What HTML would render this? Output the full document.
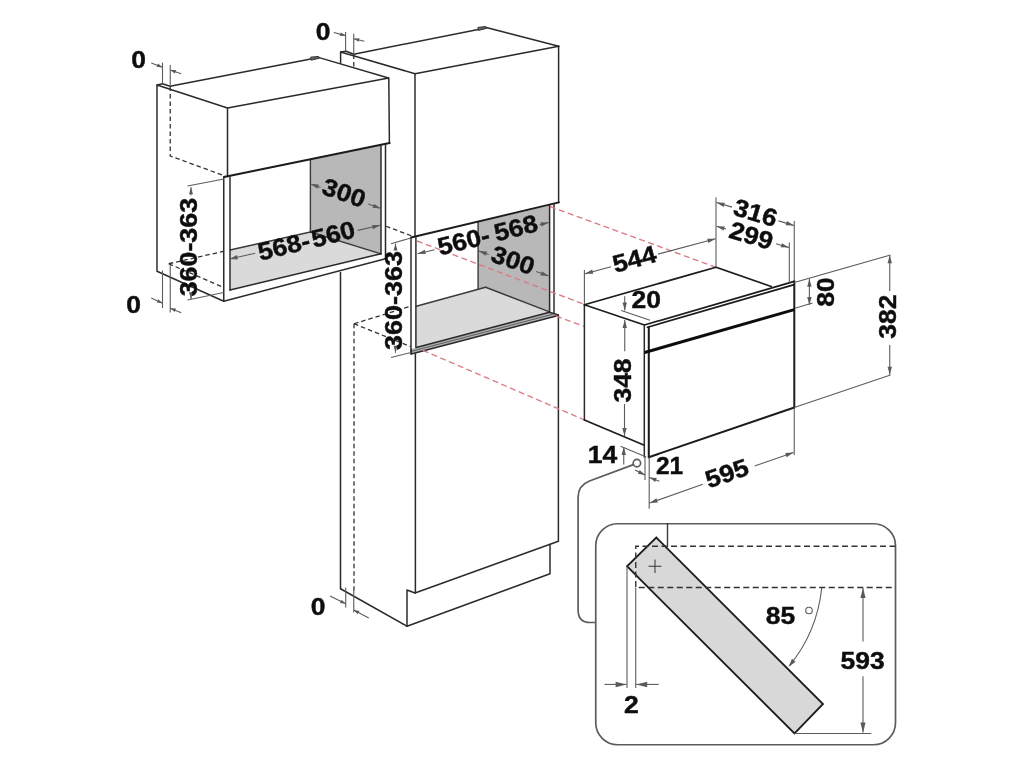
<!DOCTYPE html>
<html><head><meta charset="utf-8"><title>Built-in oven installation dimensions</title>
<style>
html,body{margin:0;padding:0;background:#fff;}
body{width:1024px;height:768px;overflow:hidden;font-family:"Liberation Sans",sans-serif;}
svg{display:block;}
text{font-family:"Liberation Sans",sans-serif;font-weight:bold;fill:#111;stroke:#111;stroke-width:0.45;}
.k{stroke:#2b2b2b;stroke-width:1.5;fill:none;stroke-linejoin:round;stroke-linecap:round;}
.k2{stroke:#3a3a3a;stroke-width:1.4;fill:none;stroke-linecap:round;}
.k4{stroke:#555;stroke-width:0.9;fill:none;}
.k3{stroke:#333;stroke-width:1;fill:none;}
.kb{stroke:#1c1c1c;stroke-width:2;fill:none;stroke-linecap:round;}
.ko{stroke:#1c1c1c;stroke-width:1.7;fill:none;stroke-linejoin:round;stroke-linecap:round;}
.kh{stroke:#111;stroke-width:3;fill:none;}
.kd{stroke:#1c1c1c;stroke-width:1.8;stroke-linejoin:miter;}
.c{stroke:#5c5c5c;stroke-width:1.7;fill:none;}
.d{stroke:#333;stroke-width:1.3;fill:none;stroke-dasharray:4.5 3;}
.d2{stroke:#333;stroke-width:1.4;fill:none;stroke-dasharray:6 3.5;}
.g{stroke:#5c5c5c;stroke-width:1.1;fill:none;}
.ah{fill:#5a5a5a;stroke:none;}
.r{stroke:#dc7a83;stroke-width:1.35;fill:none;stroke-dasharray:6 3.5;}
.f{stroke:none;}
.n{fill:#666;stroke:#333;stroke-width:1;stroke-linejoin:round;}
</style></head>
<body>
<svg width="1024" height="768" viewBox="0 0 1024 768">
<rect x="0" y="0" width="1024" height="768" fill="#ffffff"/>
<defs><filter id="soft" x="0" y="0" width="1024" height="768" filterUnits="userSpaceOnUse"><feGaussianBlur stdDeviation="0.45"/></filter></defs>
<g filter="url(#soft)">
<polygon points="310.4,159.5 381,145 381,253.8 310.4,232" class="f" fill="#b8b8b8"/>
<polygon points="230,250 310.4,232 381,253.8 230,290" class="f" fill="#dadada"/>
<line x1="310.4" y1="160" x2="310.4" y2="232" class="k2" />
<line x1="230" y1="250" x2="310.4" y2="232" class="k2" />
<line x1="310.4" y1="232" x2="381" y2="253.8" class="k2" />
<polyline points="227.5,108 157,85 157,271.25 223.75,301.25 385.5,258.7" class="k" />
<polyline points="157,85 162.5,83.75 170,86.25 310.8,58.9" class="k" />
<polyline points="319.2,57.6 388.5,78" class="k" />
<polygon points="310.6,57.2 318.6,56.4 319.4,58.2 311.2,60.2" class="n" />
<polyline points="227.5,176.2 227.5,108 388.8,78 389.4,143.2" class="k" />
<line x1="224" y1="176.9" x2="389.6" y2="143.1" class="kb" />
<line x1="223.75" y1="176.8" x2="223.75" y2="301.25" class="k" />
<line x1="230" y1="175.6" x2="230" y2="290" class="k" />
<line x1="381" y1="145.5" x2="381" y2="253.8" class="k" />
<line x1="385.5" y1="144.5" x2="385.5" y2="258.7" class="k" />
<line x1="230" y1="290" x2="381" y2="253.8" class="k" />
<polyline points="170.25,86.5 170.25,156 225,176" class="d" />
<line x1="168.75" y1="263.75" x2="223.75" y2="251.25" class="d" />
<line x1="168.75" y1="263.75" x2="223.75" y2="287.5" class="d" />
<line x1="162.5" y1="62.5" x2="162.5" y2="83.75" class="g" />
<line x1="170.25" y1="65" x2="170.25" y2="86.25" class="g" />
<line x1="151.25" y1="63" x2="162.5" y2="67.25" class="g" />
<polygon points="162.5,67.25 156.72,66.99 157.99,63.62" class="ah" />
<line x1="181.25" y1="73.75" x2="170.25" y2="70" class="g" />
<polygon points="170.25,70 176.04,70.07 174.87,73.48" class="ah" />
<line x1="162.5" y1="270.5" x2="162.5" y2="308" class="g" />
<line x1="170.25" y1="265" x2="170.25" y2="312.5" class="g" />
<line x1="151.25" y1="298" x2="162.5" y2="303.2" class="g" />
<polygon points="162.5,303.2 156.75,302.53 158.26,299.26" class="ah" />
<line x1="181.25" y1="312.7" x2="170.25" y2="308.2" class="g" />
<polygon points="170.25,308.2 176.02,308.62 174.66,311.95" class="ah" />
<line x1="187.5" y1="186" x2="224" y2="179" class="g" />
<line x1="187.5" y1="300" x2="223.75" y2="292.5" class="g" />
<line x1="191" y1="187.3" x2="191.0" y2="195.14000000000001" class="g" />
<line x1="191.0" y1="296.5" x2="191" y2="299.3" class="g" />
<polygon points="191,187.3 193.0,194.3 189.0,194.3" class="ah" />
<polygon points="191,299.3 189.0,292.3 193.0,292.3" class="ah" />
<line x1="310.6" y1="184" x2="320.428" y2="187.416" class="g" />
<line x1="368.164" y1="204.008" x2="380.8" y2="208.4" class="g" />
<polygon points="310.6,184 318.88,184.55 317.43,188.7" class="ah" />
<polygon points="380.8,208.4 372.52,207.85 373.97,203.7" class="ah" />
<line x1="229.6" y1="259" x2="255.219" y2="253.27100000000002" class="g" />
<line x1="357.695" y1="230.35500000000002" x2="380.3" y2="225.3" class="g" />
<polygon points="229.6,259 236.93,255.11 237.89,259.4" class="ah" />
<polygon points="380.3,225.3 372.97,229.19 372.01,224.9" class="ah" />
<polygon points="478.1,222 549.5,205.5 549.5,311.9 485.6,287.25 478.1,289" class="f" fill="#b8b8b8"/>
<polygon points="416.25,306.25 485.6,287.25 548.75,311.9 416.25,347.5" class="f" fill="#dadada"/>
<line x1="478.1" y1="222.5" x2="478.1" y2="289" class="k2" />
<line x1="416.25" y1="306.25" x2="485.6" y2="287.25" class="k2" />
<line x1="485.6" y1="287.25" x2="549.5" y2="311.9" class="k2" />
<polyline points="340.6,63.2 340.6,52 415,73.75 558.75,46.25" class="k" />
<polyline points="340.6,52 346.25,51.25 353.75,54.2 478.2,29.4" class="k" />
<polyline points="486.2,27.6 558.75,46.25" class="k" />
<polygon points="477.9,27.4 485.6,26.5 486.5,28.4 478.4,30.4" class="n" />
<line x1="415" y1="73.75" x2="415" y2="236.5" class="k" />
<line x1="558.6" y1="46.25" x2="558.6" y2="202.5" class="k" />
<line x1="411" y1="237.5" x2="558.9" y2="202.4" class="kb" />
<line x1="411" y1="237.5" x2="411" y2="354" class="k" />
<line x1="415.9" y1="236.3" x2="415.9" y2="347.6" class="k" />
<line x1="549.6" y1="205" x2="549.6" y2="312" class="k" />
<line x1="554" y1="203.8" x2="554" y2="314" class="k" />
<polygon points="416.25,347.5 549.5,312.2 558.2,315.4 411.25,353.8 411.25,349" class="f" fill="#b0b0b0"/>
<polyline points="416.25,347.5 549.5,312.2 557.8,314.6" class="k" />
<line x1="411.25" y1="351.4" x2="554" y2="313.9" class="k4" />
<polyline points="411.25,349.5 411.25,354 558.2,315.6" class="k" />
<line x1="415.4" y1="354" x2="415.4" y2="593" class="k" />
<line x1="558.4" y1="315" x2="558.4" y2="541.3" class="k" />
<line x1="340.5" y1="272.5" x2="340.5" y2="588.75" class="k" />
<polyline points="340.5,588.75 407,626.25 550,573.75 550,544.5" class="k" />
<polyline points="407,626.25 407,590 415,593 558.4,541.3" class="k" />
<line x1="353.75" y1="54.4" x2="353.75" y2="67.5" class="d" />
<line x1="354" y1="323.75" x2="354" y2="590.5" class="d" />
<line x1="354" y1="323.75" x2="410.6" y2="306.25" class="d" />
<line x1="354" y1="323.75" x2="410.6" y2="346.6" class="d" />
<line x1="386" y1="226.25" x2="412.5" y2="236.2" class="d" />
<line x1="550" y1="206.5" x2="716" y2="267.3" class="r" />
<line x1="417" y1="241" x2="584" y2="304.3" class="r" />
<line x1="556" y1="316" x2="584" y2="326.3" class="r" />
<line x1="422.8" y1="350.3" x2="584.6" y2="420" class="r" />
<line x1="345.6" y1="32" x2="345.6" y2="51.25" class="g" />
<line x1="353.75" y1="33.75" x2="353.75" y2="54.4" class="g" />
<line x1="333.75" y1="32.5" x2="345.6" y2="35.6" class="g" />
<polygon points="345.6,35.6 339.82,35.95 340.73,32.47" class="ah" />
<line x1="364.4" y1="41.25" x2="353.75" y2="38.75" class="g" />
<polygon points="353.75,38.75 359.52,38.25 358.69,41.76" class="ah" />
<line x1="345.75" y1="587.5" x2="345.75" y2="607.5" class="g" />
<line x1="353.75" y1="590" x2="353.75" y2="612.5" class="g" />
<line x1="330" y1="596" x2="345.75" y2="603.75" class="g" />
<polygon points="345.75,603.75 340.02,602.94 341.61,599.71" class="ah" />
<line x1="368.75" y1="618" x2="353.75" y2="610" class="g" />
<polygon points="353.75,610 359.45,611.0 357.76,614.18" class="ah" />
<line x1="391" y1="243.75" x2="411" y2="238" class="g" />
<line x1="391" y1="357.5" x2="411" y2="352.5" class="g" />
<line x1="395.5" y1="243.6" x2="395.5" y2="250.152" class="g" />
<line x1="395.5" y1="350.07" x2="395.5" y2="352.8" class="g" />
<polygon points="395.5,243.6 397.5,250.6 393.5,250.6" class="ah" />
<polygon points="395.5,352.8 393.5,345.8 397.5,345.8" class="ah" />
<line x1="417.5" y1="253.75" x2="434.5625" y2="249.6875" class="g" />
<line x1="539.5625" y1="224.6875" x2="548.75" y2="222.5" class="g" />
<polygon points="417.5,253.75 424.77,249.76 425.79,254.04" class="ah" />
<polygon points="548.75,222.5 541.48,226.49 540.46,222.21" class="ah" />
<line x1="478.75" y1="251" x2="488.55" y2="254.5" class="g" />
<line x1="536.15" y1="271.5" x2="548.75" y2="276" class="g" />
<polygon points="478.75,251 487.02,251.62 485.54,255.76" class="ah" />
<polygon points="548.75,276 540.48,275.38 541.96,271.24" class="ah" />
<polyline points="584.4,420 584.4,304.75" class="k" />
<polyline points="584.4,304.75 716,267.2 771.25,286.5" class="ko" />
<polyline points="584.4,304.75 644.4,325 794.25,281.4" class="ko" />
<line x1="647.5" y1="327.2" x2="794.25" y2="284.6" class="ko" />
<line x1="584.4" y1="420" x2="643.75" y2="445" class="ko" />
<line x1="644.3" y1="325" x2="644.3" y2="457" class="k" />
<line x1="648.8" y1="327" x2="648.8" y2="457.2" class="kb" />
<line x1="648.8" y1="457.2" x2="794.3" y2="407.5" class="kb" />
<line x1="794.3" y1="281" x2="794.3" y2="407.7" class="kb" />
<line x1="644.6" y1="352.5" x2="794.3" y2="309.6" class="kh" />
<line x1="584.4" y1="270" x2="584.4" y2="304" class="g" />
<line x1="716" y1="197.5" x2="716" y2="267" class="g" />
<line x1="585" y1="273.75" x2="611.1" y2="266.75" class="g" />
<line x1="658.08" y1="254.15" x2="715.5" y2="238.75" class="g" />
<polygon points="585,273.75 592.16,269.55 593.3,273.8" class="ah" />
<polygon points="715.5,238.75 708.34,242.95 707.2,238.7" class="ah" />
<line x1="794.25" y1="221" x2="794.25" y2="281" class="g" />
<line x1="789.3" y1="242.5" x2="789.3" y2="282.5" class="g" />
<line x1="716.5" y1="202.5" x2="732.0" y2="207.1" class="g" />
<line x1="778.5" y1="220.9" x2="794" y2="225.5" class="g" />
<polygon points="716.5,202.5 724.8,202.67 723.54,206.89" class="ah" />
<polygon points="794,225.5 785.7,225.33 786.96,221.11" class="ah" />
<line x1="716.5" y1="226.25" x2="725.925" y2="229.0125" class="g" />
<line x1="775.95" y1="243.675" x2="789" y2="247.5" class="g" />
<polygon points="716.5,226.25 724.8,226.39 723.56,230.61" class="ah" />
<polygon points="789,247.5 780.7,247.36 781.94,243.14" class="ah" />
<line x1="621.25" y1="310.6" x2="650" y2="320.2" class="g" />
<line x1="624.75" y1="296.25" x2="624.75" y2="310.6" class="g" />
<polygon points="624.75,310.6 622.55,302.6 626.95,302.6" class="ah" />
<line x1="624.75" y1="351.25" x2="624.75" y2="320" class="g" />
<polygon points="624.75,320 626.95,328.0 622.55,328.0" class="ah" />
<line x1="624.5" y1="404" x2="624.5" y2="436" class="g" />
<polygon points="624.5,436 622.3,428.0 626.7,428.0" class="ah" />
<line x1="620.6" y1="446.25" x2="646.25" y2="456.9" class="g" />
<line x1="623.75" y1="464.4" x2="623.75" y2="446.9" class="g" />
<polygon points="623.75,446.9 625.95,454.9 621.55,454.9" class="ah" />
<line x1="645" y1="457" x2="645" y2="480" class="g" />
<line x1="649.2" y1="457.5" x2="649.2" y2="508.75" class="g" />
<line x1="635" y1="470" x2="645" y2="475" class="g" />
<polygon points="645,475 637.8,473.75 639.68,469.99" class="ah" />
<line x1="659.4" y1="481.25" x2="649.4" y2="477.5" class="g" />
<polygon points="649.4,477.5 656.69,477.99 655.22,481.92" class="ah" />
<line x1="794.25" y1="407.5" x2="794.25" y2="455" class="g" />
<line x1="649.6" y1="503" x2="702.843" y2="484.278" class="g" />
<line x1="754.647" y1="466.062" x2="793.5" y2="452.4" class="g" />
<polygon points="649.6,503 656.42,498.27 657.88,502.42" class="ah" />
<polygon points="793.5,452.4 786.68,457.13 785.22,452.98" class="ah" />
<line x1="795" y1="308.2" x2="812.5" y2="303" class="g" />
<line x1="809.4" y1="278.75" x2="809.4" y2="305" class="g" />
<polygon points="809.4,278.75 811.6,286.75 807.2,286.75" class="ah" />
<polygon points="809.4,305 807.2,297.0 811.6,297.0" class="ah" />
<line x1="794.25" y1="282.5" x2="890.5" y2="255" class="g" />
<line x1="794.25" y1="407.5" x2="890.5" y2="375" class="g" />
<line x1="889.75" y1="255.2" x2="889.75" y2="291.08" class="g" />
<line x1="889.75" y1="344.9" x2="889.75" y2="374.8" class="g" />
<polygon points="889.75,255.2 891.95,263.2 887.55,263.2" class="ah" />
<polygon points="889.75,374.8 887.55,366.8 891.95,366.8" class="ah" />
<circle cx="636.9" cy="463.1" r="3.7" class="c"/>
<path d="M633.4,464.6 L589.5,481 Q578.1,485.5 578.1,497 L578.1,610 Q578.1,622.5 590,622.5 L595.7,622.5" class="c"/>
<rect x="595.75" y="523.75" width="299.75" height="221" rx="22" ry="22" class="c"/>
<line x1="667.5" y1="523.75" x2="667.5" y2="546.25" class="k2" />
<polygon points="656.25,537.5 823,704 794.5,733.5 627,566.25" class="kd" fill="#d8d8d8"/>
<polyline points="895.5,546.25 635.75,546.25 635.75,587.5 895.5,587.5" class="d2" />
<line x1="648.5" y1="566.25" x2="661.5" y2="566.25" class="k3" />
<line x1="655" y1="559.5" x2="655" y2="573" class="k3" />
<line x1="627" y1="566.25" x2="627" y2="688" class="g" />
<line x1="635.75" y1="587.5" x2="635.75" y2="688" class="g" />
<line x1="604.5" y1="684.4" x2="626.6" y2="684.4" class="g" />
<polygon points="626.6,684.4 615.6,687.15 615.6,681.65" class="ah" />
<line x1="658.75" y1="684.4" x2="636.2" y2="684.4" class="g" />
<polygon points="636.2,684.4 647.2,681.65 647.2,687.15" class="ah" />
<line x1="794.5" y1="733.5" x2="871.25" y2="733.5" class="g" />
<line x1="863" y1="588" x2="863.0" y2="641.465" class="g" />
<line x1="863.0" y1="676.145" x2="863" y2="732.5" class="g" />
<polygon points="863,588 865.6,598.0 860.4,598.0" class="ah" />
<polygon points="863,732.5 860.4,722.5 865.6,722.5" class="ah" />
<circle cx="809" cy="610.5" r="3.3" class="g" fill="none"/>
<path d="M821.75,588 Q817,632 789.6,665.5" class="g" fill="none"/>
<polygon points="788.6,667 791.94,658.85 795.59,661.65" class="ah" />
<text transform="translate(138.7,59.7) rotate(0) scale(1.08,1)" x="0" y="8.17" font-size="24.5" text-anchor="middle">0</text>
<text transform="translate(133.7,305) rotate(0) scale(1.08,1)" x="0" y="8.17" font-size="24.5" text-anchor="middle">0</text>
<text transform="translate(189.3,247.1) rotate(-90) scale(1.095,1)" x="0" y="8.17" font-size="24.5" text-anchor="middle">360-363</text>
<text transform="translate(344,193) rotate(19) scale(1.08,1)" x="0" y="8.17" font-size="24.5" text-anchor="middle">300</text>
<text transform="translate(306.5,241.0) rotate(-13.8) scale(1.08,1)" x="0" y="8.17" font-size="24.5" text-anchor="middle">568- 560</text>
<text transform="translate(323.2,31.5) rotate(0) scale(1.08,1)" x="0" y="8.17" font-size="24.5" text-anchor="middle">0</text>
<text transform="translate(318,606.5) rotate(0) scale(1.08,1)" x="0" y="8.17" font-size="24.5" text-anchor="middle">0</text>
<text transform="translate(394.3,300.5) rotate(-90) scale(1.1,1)" x="0" y="8.17" font-size="24.5" text-anchor="middle">360-363</text>
<text transform="translate(487.6,235.2) rotate(-14) scale(1.08,1)" x="0" y="8.17" font-size="24.5" text-anchor="middle">560- 568</text>
<text transform="translate(513,260.4) rotate(19) scale(1.08,1)" x="0" y="8.17" font-size="24.5" text-anchor="middle">300</text>
<text transform="translate(634.5,259.3) rotate(-15) scale(1.08,1)" x="0" y="8.17" font-size="24.5" text-anchor="middle">544</text>
<text transform="translate(755.5,213) rotate(16.5) scale(1.08,1)" x="0" y="8.17" font-size="24.5" text-anchor="middle">316</text>
<text transform="translate(751.3,235.7) rotate(16.5) scale(1.08,1)" x="0" y="8.17" font-size="24.5" text-anchor="middle">299</text>
<text transform="translate(646.3,300) rotate(0) scale(1.08,1)" x="0" y="8.17" font-size="24.5" text-anchor="middle">20</text>
<text transform="translate(622.4,380.5) rotate(-90) scale(1.08,1)" x="0" y="8.17" font-size="24.5" text-anchor="middle">348</text>
<text transform="translate(602.5,454.7) rotate(0) scale(1.08,1)" x="0" y="8.17" font-size="24.5" text-anchor="middle">14</text>
<text transform="translate(669.6,466.2) rotate(0) scale(1.0,1)" x="0" y="8.17" font-size="24.5" text-anchor="middle">21</text>
<text transform="translate(727,473.6) rotate(-19) scale(1.08,1)" x="0" y="8.17" font-size="24.5" text-anchor="middle">595</text>
<text transform="translate(825.5,292) rotate(-90) scale(1.08,1)" x="0" y="8.17" font-size="24.5" text-anchor="middle">80</text>
<text transform="translate(888,316.7) rotate(-90) scale(1.08,1)" x="0" y="8.17" font-size="24.5" text-anchor="middle">382</text>
<text transform="translate(631.3,705.3) rotate(0) scale(1.08,1)" x="0" y="8.17" font-size="24.5" text-anchor="middle">2</text>
<text transform="translate(862.6,660.8) rotate(0) scale(1.08,1)" x="0" y="8.17" font-size="24.5" text-anchor="middle">593</text>
<text transform="translate(780.5,616.3) rotate(0) scale(1.08,1)" x="0" y="8.17" font-size="24.5" text-anchor="middle">85</text>
</g>
</svg>
</body></html>
